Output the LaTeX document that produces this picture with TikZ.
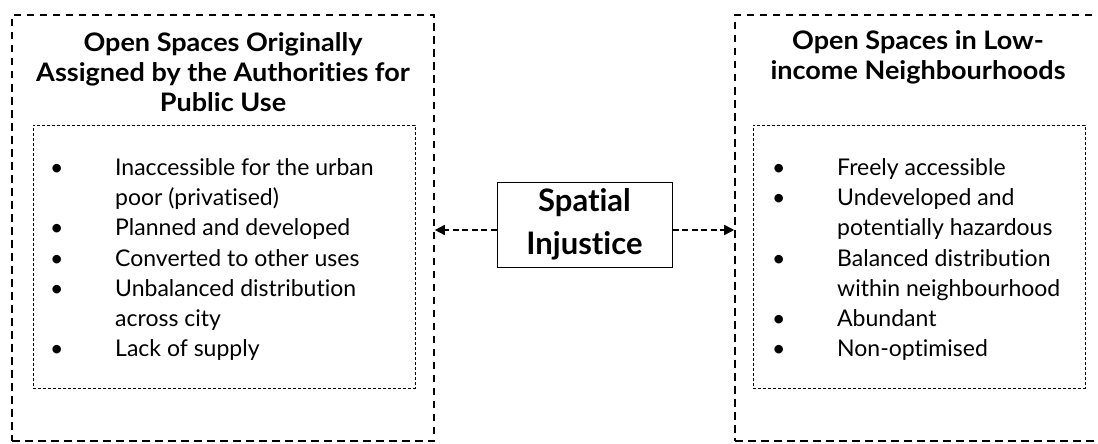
\documentclass[tikz,border=0pt]{standalone}
\usepackage{fontspec}
\setmainfont{Lato}[Ligatures={NoCommon}]
\newfontfamily\ttlfont{Lato}[FakeStretch=1.06,Ligatures={NoCommon}]
\usetikzlibrary{arrows.meta}
\begin{document}
\begin{tikzpicture}[x=1pt,y=-1pt,
  outer/.style={draw, dash pattern=on 7.5pt off 5.5pt, line width=1.6pt, inner sep=0pt},
  inner/.style={draw, dash pattern=on 3pt off 2pt, line width=0.7pt, inner sep=0pt},
  ttl/.style={font=\ttlfont\fontsize{25.5}{30}\selectfont\bfseries, align=center, inner sep=0pt},
  itm/.style={font=\fontsize{23}{30.5}\selectfont, anchor=base west, inner sep=0pt},
  sp/.style={draw, line width=1pt, minimum width=175pt, minimum height=85pt, align=center,
     font=\fontsize{31}{43}\selectfont\bfseries},
  arr/.style={dash pattern=on 6pt off 3.5pt, line width=1.6pt, -{Triangle[length=10pt,width=10pt]}}
]
\clip (0,0) rectangle (1098,444);
\useasboundingbox (0,0) rectangle (1098,444);
\fill[white] (0,0) rectangle (1098,444);
% outer boxes
\node[outer, minimum width=422pt, minimum height=426pt] (L) at (223,228) {};
\node[outer, minimum width=375pt, minimum height=426pt] (R) at (922.5,228) {};
% inner boxes
\node[inner, minimum width=382pt, minimum height=263pt] (Li) at (224,256.5) {};
\node[inner, minimum width=332pt, minimum height=263pt] (Ri) at (919,256.5) {};
% titles
\node[ttl] (Lt) at (223,72) {Open Spaces Originally\\Assigned by the Authorities for\\Public Use};
\node[ttl] (Rt) at (918,57) {Open Spaces in Low-\\income Neighbourhoods};
% centre
\node[sp] (S) at (584.5,224.5) {Spatial\\Injustice};
\draw[arr] ([yshift=-5.5pt]S.west) -- ([yshift=-5.5pt]S.west -| L.east);
\draw[arr] ([yshift=-5.5pt]S.east) -- ([yshift=-5.5pt]S.east -| R.west);
% left list
\node[itm] (lb1) at (50,175) {•};
\node[itm] (l1) at (115,175) {Inaccessible for the urban};
\node[itm] (l1b) at (115,205) {poor (privatised)};
\node[itm] (lb2) at (50,235) {•};
\node[itm] (l2) at (115,235) {Planned and developed};
\node[itm] (lb3) at (50,266) {•};
\node[itm] (l3) at (115,266) {Converted to other uses};
\node[itm] (lb4) at (50,296) {•};
\node[itm] (l4) at (115,296) {Unbalanced distribution};
\node[itm] (l4b) at (115,326) {across city};
\node[itm] (lb5) at (50,356) {•};
\node[itm] (l5) at (115,356) {Lack of supply};
% right list
\node[itm] (rb1) at (772,175) {•};
\node[itm] (r1) at (837,175) {Freely accessible};
\node[itm] (rb2) at (772,205) {•};
\node[itm] (r2) at (837,205) {Undeveloped and};
\node[itm] (r2b) at (837,235) {potentially hazardous};
\node[itm] (rb3) at (772,266) {•};
\node[itm] (r3) at (837,266) {Balanced distribution};
\node[itm] (r3b) at (837,296) {within neighbourhood};
\node[itm] (rb4) at (772,326) {•};
\node[itm] (r4) at (837,326) {Abundant};
\node[itm] (rb5) at (772,356) {•};
\node[itm] (r5) at (837,356) {Non-optimised};
\end{tikzpicture}
\end{document}
